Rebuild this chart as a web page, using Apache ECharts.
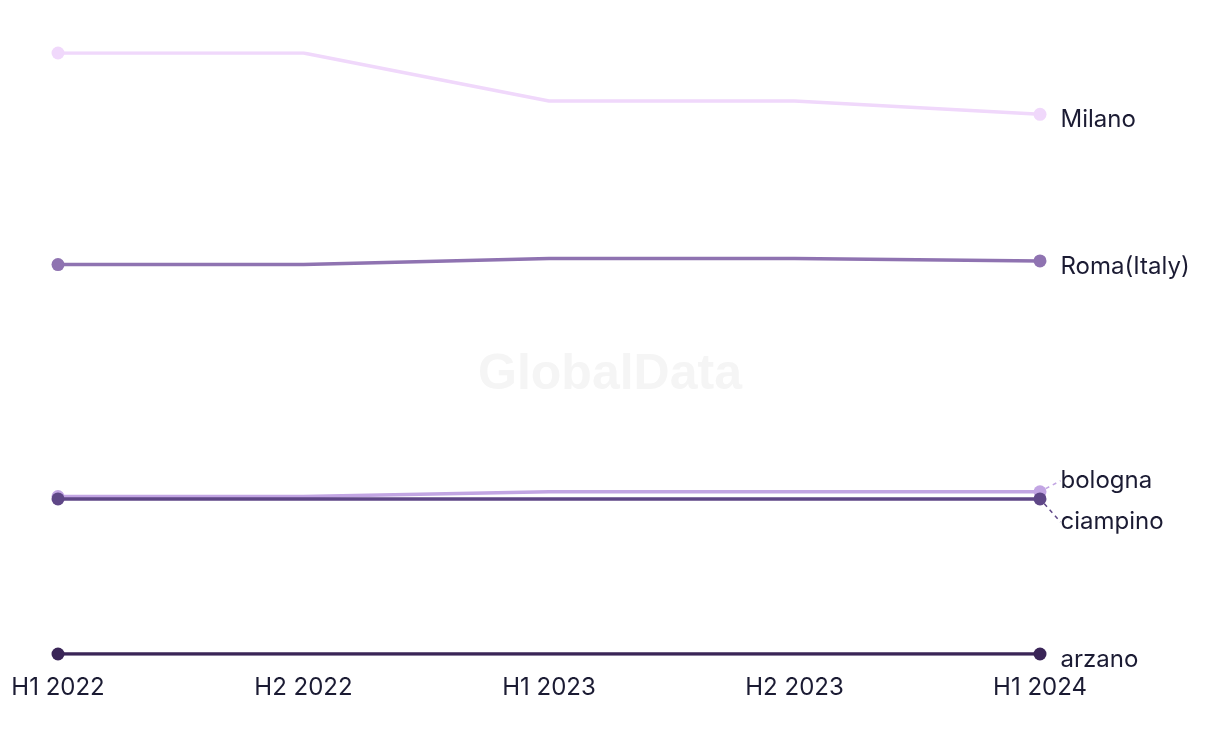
<!DOCTYPE html>
<html><head><meta charset="utf-8">
<script src="https://cdn.jsdelivr.net/npm/echarts@6/dist/echarts.min.js"></script>
<style>html,body{margin:0;padding:0;background:#fff}#c{width:1220px;height:744px}</style>
</head><body><div id="c"></div>
<script>
const categories = ['H1 2022','H2 2022','H1 2023','H2 2023','H1 2024'];
const seriesNames = ['Milano','Roma(Italy)','bologna','ciampino','arzano'];
const milano   = [50, 50, 46, 46, 44.9];
const roma     = [32.4, 32.4, 32.9, 32.9, 32.7];
const bologna  = [13.1, 13.1, 13.5, 13.5, 13.5];
const ciampino = [12.9, 12.9, 12.9, 12.9, 12.9];
const arzano   = [0, 0, 0, 0, 0];
const values = [milano, roma, bologna, ciampino, arzano];
const colors = ['#f0d8fb','#8f73b1','#c2a5e3','#5f4787','#3a2557'];
// vertical nudges of the end labels (bologna / ciampino are spread apart)
const labelDy = [5, 6, -11, 23, 6];
const guideShown = [false, false, true, true, false];

const chart = echarts.init(document.getElementById('c'));
const series = seriesNames.map((name, i) => ({
  name, type: 'line', z: 2 + i,
  data: values[i].map((v, j) => {
    const last = j === values[i].length - 1;
    const item = {value: v, symbol: (j === 0 || last) ? 'circle' : 'none'};
    if (last) item.label = {show: true};
    return item;
  }),
  symbolSize: 13, showSymbol: true,
  lineStyle: {width: 3.5, color: colors[i]},
  itemStyle: {color: colors[i]},
  emphasis: {disabled: true},
  label: {show: false, position: 'right', formatter: '{a}', distance: 14, fontSize: 24, color: '#1b1b33',
    fontFamily: 'Inter'},
  labelLine: {show: guideShown[i], length2: 0, lineStyle: {type: [4, 4], width: 1.5, color: colors[i]}},
  labelLayout: () => ({dy: labelDy[i]})
}));

chart.setOption({
  animation: false,
  graphic: [{type: 'text', left: 'center', top: 350, z: 0, style: {text: 'GlobalData', fontSize: 50, fontWeight: 'bold', fontFamily: 'Liberation Sans', fill: '#f5f5f5'}}],
  grid: {left: 58, right: 180, top: 53, bottom: 90},
  xAxis: {type: 'category', data: categories, boundaryGap: false,
    axisLine: {show: false}, axisTick: {show: false},
    axisLabel: {fontSize: 24, color: '#1b1b33', fontFamily: 'Inter', margin: 22}},
  yAxis: {type: 'value', min: 0, max: 50, show: false, splitLine: {show: false}},
  series
});
</script></body></html>
